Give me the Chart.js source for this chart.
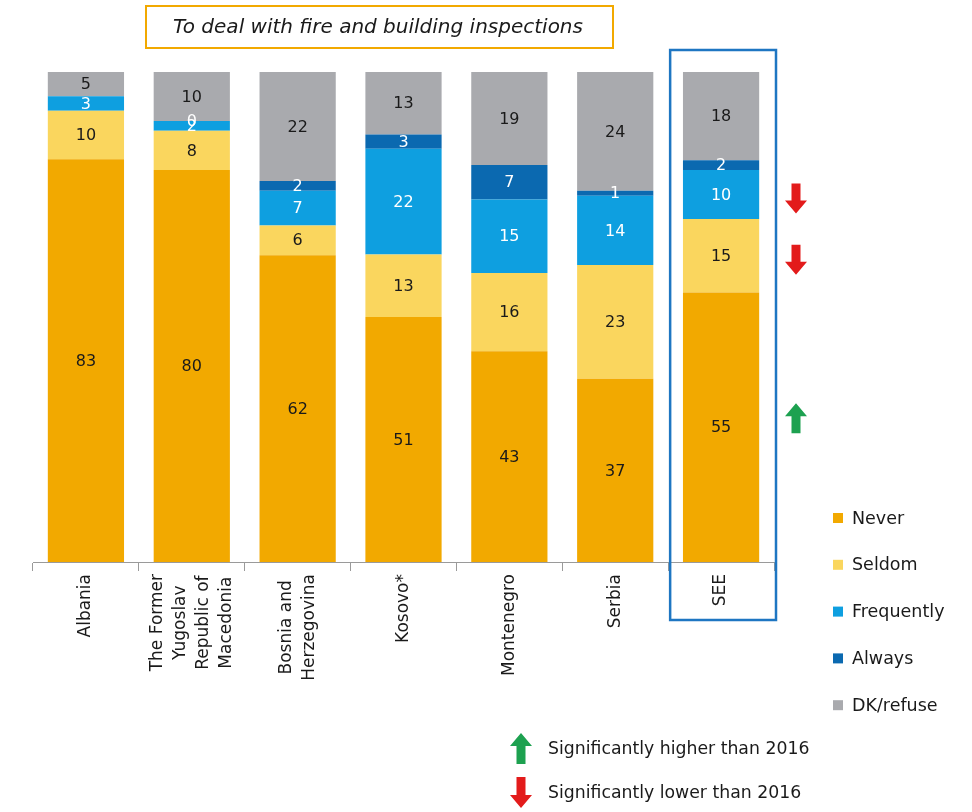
<!DOCTYPE html>
<html><head><meta charset="utf-8">
<script src="https://cdn.jsdelivr.net/npm/chart.js@4/dist/chart.umd.min.js"></script>
<style>html,body{margin:0;padding:0;background:#fff;} canvas{display:block}</style>
</head><body>
<canvas id="c" width="972" height="812"></canvas>
<script>
const title = 'To deal with fire and building inspections';
const categories = [['Albania'], ['The Former','Yugoslav','Republic of','Macedonia'], ['Bosnia and','Herzegovina'], ['Kosovo*'], ['Montenegro'], ['Serbia'], ['SEE']];
const seriesNames = ['Never','Seldom','Frequently','Always','DK/refuse'];
const never = [83, 80, 62, 51, 43, 37, 55];
const seldom = [10, 8, 6, 13, 16, 23, 15];
const frequently = [3, 2, 7, 22, 15, 14, 10];
const always = [null, 0, 2, 3, 7, 1, 2];
const dkRefuse = [5, 10, 22, 13, 19, 24, 18];
// significance vs 2016 for SEE: series name -> 'up' | 'down'
const seeChanges = [['Frequently','down'], ['Seldom','down'], ['Never','up']];
const sigLegend = [['up','Significantly higher than 2016'], ['down','Significantly lower than 2016']];

const colors = ['#F2A900', '#FAD65E', '#0E9FE0', '#0B69B0', '#A9AAAE'];
const labelColors = ['#1a1a1a', '#1a1a1a', '#ffffff', '#ffffff', '#1a1a1a'];
const raw = [never, seldom, frequently, always, dkRefuse];
const totals = categories.map((_, j) => raw.reduce((s, arr) => s + (arr[j] || 0), 0));

const FONT = '"DejaVu Sans", sans-serif';

function drawArrow(ctx, cx, top, h, dir, color) {
  const headH = 13, headW = 22, shaftW = 9;
  ctx.save();
  ctx.fillStyle = color;
  ctx.beginPath();
  if (dir === 'up') {
    ctx.moveTo(cx, top);
    ctx.lineTo(cx + headW / 2, top + headH);
    ctx.lineTo(cx + shaftW / 2, top + headH);
    ctx.lineTo(cx + shaftW / 2, top + h);
    ctx.lineTo(cx - shaftW / 2, top + h);
    ctx.lineTo(cx - shaftW / 2, top + headH);
    ctx.lineTo(cx - headW / 2, top + headH);
  } else {
    const b = top + h;
    ctx.moveTo(cx, b);
    ctx.lineTo(cx + headW / 2, b - headH);
    ctx.lineTo(cx + shaftW / 2, b - headH);
    ctx.lineTo(cx + shaftW / 2, top);
    ctx.lineTo(cx - shaftW / 2, top);
    ctx.lineTo(cx - shaftW / 2, b - headH);
    ctx.lineTo(cx - headW / 2, b - headH);
  }
  ctx.closePath();
  ctx.fill();
  ctx.restore();
}

const custom = {
  id: 'custom',
  afterDatasetsDraw(chart) {
    const ctx = chart.ctx;
    ctx.save();
    ctx.font = '16px ' + FONT;
    ctx.textAlign = 'center';
    ctx.textBaseline = 'middle';
    chart.data.datasets.forEach((ds, i) => {
      const meta = chart.getDatasetMeta(i);
      meta.data.forEach((el, j) => {
        const v = raw[i][j];
        if (v === null || v === undefined) return;
        ctx.fillStyle = labelColors[i];
        ctx.fillText(String(v), el.x, (el.y + el.base) / 2 + 1);
      });
    });
    ctx.restore();
  },
  afterDraw(chart) {
    const ctx = chart.ctx;
    const xs = chart.scales.x;
    const area = chart.chartArea;
    // category labels
    ctx.save();
    ctx.font = '17px ' + FONT;
    ctx.fillStyle = '#1a1a1a';
    ctx.textBaseline = 'middle';
    const lh = 23;
    categories.forEach((lines, j) => {
      const x = xs.getPixelForValue(j);
      const w = Math.max(...lines.map(l => ctx.measureText(l).width));
      ctx.save();
      ctx.translate(x, area.bottom + 12);
      ctx.rotate(-Math.PI / 2);
      ctx.textAlign = 'center';
      const n = lines.length;
      lines.forEach((l, k) => {
        ctx.fillText(l, -w / 2, (k - (n - 1) / 2) * lh);
      });
      ctx.restore();
    });
    ctx.restore();

    // SEE box
    const seeIdx = categories.length - 1;
    const sx = xs.getPixelForValue(seeIdx);
    const half = (xs.getPixelForValue(1) - xs.getPixelForValue(0)) / 2;
    ctx.save();
    ctx.strokeStyle = '#1E76C2';
    ctx.lineWidth = 2.5;
    ctx.strokeRect(sx - half + 2, area.top - 22, 2 * half, area.bottom - area.top + 80);
    ctx.restore();

    // significance arrows beside SEE
    const seeMeta = (name) => chart.getDatasetMeta(seriesNames.indexOf(name)).data[seeIdx];
    seeChanges.forEach(([name, dir]) => {
      const el = seeMeta(name);
      const cy = (el.y + el.base) / 2;
      const ay = dir === 'up' ? cy - 9 : cy + 4;
      drawArrow(ctx, sx + half + 22, ay - 15, 30, dir, dir === 'up' ? '#1DA150' : '#E31B1B');
    });

    // right legend
    ctx.save();
    ctx.font = '17.5px ' + FONT;
    ctx.textAlign = 'left';
    ctx.textBaseline = 'middle';
    chart.data.datasets.forEach((ds, i) => {
      const y = 518 + i * 46.8;
      ctx.fillStyle = ds.backgroundColor;
      ctx.fillRect(833, y - 5, 10, 10);
      ctx.fillStyle = '#1a1a1a';
      ctx.fillText(ds.label, 852, y + 1);
    });
    ctx.restore();

    // bottom significance legend
    ctx.save();
    ctx.font = '17.3px ' + FONT;
    ctx.textAlign = 'left';
    ctx.textBaseline = 'middle';
    sigLegend.forEach(([dir, text], k) => {
      const y = 749 + k * 44;
      drawArrow(ctx, 521, y - 16, 31, dir, dir === 'up' ? '#1DA150' : '#E31B1B');
      ctx.fillStyle = '#1a1a1a';
      ctx.fillText(text, 548, y + 1);
    });
    ctx.restore();

    // title box
    ctx.save();
    ctx.strokeStyle = '#F2A900';
    ctx.lineWidth = 2;
    ctx.strokeRect(146, 6, 467, 42);
    ctx.font = 'italic 20px ' + FONT;
    ctx.fillStyle = '#1a1a1a';
    ctx.textAlign = 'center';
    ctx.textBaseline = 'middle';
    ctx.fillText(title, 378, 28);
    ctx.restore();
  }
};

new Chart(document.getElementById('c').getContext('2d'), {
  type: 'bar',
  data: {
    labels: categories,
    datasets: seriesNames.map((name, i) => ({
      label: name,
      data: raw[i].map((v, j) => v === null ? null : v / totals[j] * 100),
      backgroundColor: colors[i],
      borderWidth: 0,
      categoryPercentage: 1,
      barPercentage: 0.72
    }))
  },
  options: {
    responsive: false,
    animation: false,
    layout: { padding: { left: 33, right: 198, top: 72, bottom: 0 } },
    plugins: { legend: { display: false }, tooltip: { enabled: false } },
    scales: {
      x: {
        stacked: true,
        offset: true,
        grid: { display: true, offset: true, drawOnChartArea: false, drawTicks: true, tickLength: 9, color: '#9a9a9a' },
        border: { display: true, color: '#9a9a9a', width: 1 },
        ticks: { display: false },
        afterFit(s) { s.height = 250; }
      },
      y: { stacked: true, display: false, min: 0, max: 100 }
    }
  },
  plugins: [custom]
});
</script>
</body></html>
